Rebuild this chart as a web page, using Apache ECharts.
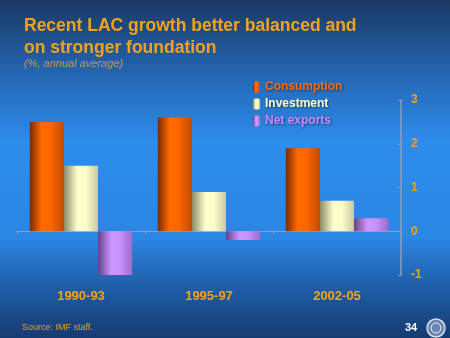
<!DOCTYPE html>
<html><head><meta charset="utf-8">
<script src="https://cdn.jsdelivr.net/npm/echarts@6/dist/echarts.min.js"></script>
<style>html,body{margin:0;padding:0;}#c{width:450px;height:338px;}</style>
</head><body><div id="c"></div>
<script>
var categories = ['1990-93', '1995-97', '2002-05'];
var consumption = [2.5, 2.6, 1.9];
var investment = [1.5, 0.9, 0.7];
var netExports = [-1.0, -0.2, 0.3];
var yTicks = [-1, 0, 1, 2, 3];

function hgrad(stops) {
  return {type:'linear', x:0, y:0, x2:1, y2:0, colorStops: stops.map(function(s){return {offset:s[0], color:s[1]};})};
}
var cGrad = hgrad([[0,'#7a2a00'],[0.35,'#ff6a00'],[0.6,'#ff6600'],[1,'#c04a00']]);
var iGrad = hgrad([[0,'#8c8c68'],[0.4,'#ffffd0'],[0.65,'#fcfcc8'],[1,'#c8c8a0']]);
var nGrad = hgrad([[0,'#6a3f8c'],[0.4,'#cc99ff'],[0.65,'#c890fa'],[1,'#9a6cc8']]);

var chart = echarts.init(document.getElementById('c'));
chart.setOption({
  animation: false,
  backgroundColor: {type:'linear', x:0, y:0, x2:0, y2:1, colorStops:[
    {offset:0, color:'#1b3963'},{offset:0.22, color:'#2466b2'},{offset:0.42, color:'#2d8cec'},
    {offset:0.7, color:'#2b86e4'},{offset:0.85, color:'#1f5ea8'},{offset:1, color:'#163b70'}]},
  graphic: [
    {type:'text', left:24, top:15, style:{text:'Recent LAC growth better balanced and\non stronger foundation', fill:'#f5a21a', font:'bold 17.5px Arial, "Liberation Sans", sans-serif', lineHeight:22}},
    {type:'text', left:24, top:58, style:{text:'(%, annual average)', fill:'#c09858', font:'italic 11px Arial, "Liberation Sans", sans-serif'}},
    {type:'text', left:22, top:323, style:{text:'Source: IMF staff.', fill:'#e8a020', font:'9px Arial, "Liberation Sans", sans-serif'}},
    {type:'text', left:405, top:322, style:{text:'34', fill:'#ffffff', font:'bold 11px Arial, "Liberation Sans", sans-serif'}},
    {type:'circle', shape:{cx:436, cy:328, r:9}, style:{fill:'#6a86b0', stroke:'#d8e0ec', lineWidth:1.5}},
    {type:'circle', shape:{cx:436, cy:328, r:5}, style:{fill:'none', stroke:'#e8eef6', lineWidth:1}}
  ],
  legend: {
    orient:'vertical', left:248, top:76, itemWidth:7, itemHeight:11, itemGap:5,
    textStyle:{fontFamily:'Arial, "Liberation Sans", sans-serif', fontWeight:'bold', fontSize:12, textShadowColor:'rgba(0,0,0,0.5)', textShadowBlur:2, textShadowOffsetX:1, textShadowOffsetY:1},
    data:[
      {name:'Consumption', textStyle:{color:'#ff6a10'}},
      {name:'Investment', textStyle:{color:'#ffffcc'}},
      {name:'Net exports', textStyle:{color:'#cc88ff'}}
    ]
  },
  grid: {left:17, right:49, top:100, bottom:63},
  xAxis: [
    {type:'category', data:categories, position:'bottom',
     axisLine:{show:false, onZero:false}, axisTick:{show:false},
     axisLabel:{color:'#f5a21a', fontWeight:'bold', fontSize:13, fontFamily:'Arial, "Liberation Sans", sans-serif', margin:15}},
    {type:'category', data:categories, position:'bottom',
     axisLine:{show:true, onZero:true, lineStyle:{color:'#8aa0b8', width:1}},
     axisTick:{show:true, length:3, lineStyle:{color:'#8aa0b8'}}, axisLabel:{show:false}}
  ],
  yAxis: {
    type:'value', position:'right', min:-1, max:3, interval:1,
    axisLine:{show:true, lineStyle:{color:'#8aa0b8', width:1.5}},
    axisTick:{show:true, inside:true, length:3, lineStyle:{color:'#8aa0b8'}},
    splitLine:{show:false},
    axisLabel:{color:'#f5a21a', fontWeight:'bold', fontSize:12, fontFamily:'Arial, "Liberation Sans", sans-serif', margin:10,
      formatter:function(v){return yTicks.indexOf(v) >= 0 ? String(v) : '';}}
  },
  series: [
    {name:'Consumption', type:'bar', data:consumption, barGap:'0%', barCategoryGap:'20%', itemStyle:{color:cGrad}},
    {name:'Investment', type:'bar', data:investment, barGap:'0%', barCategoryGap:'20%', itemStyle:{color:iGrad}},
    {name:'Net exports', type:'bar', data:netExports, barGap:'0%', barCategoryGap:'20%', itemStyle:{color:nGrad}}
  ]
});
</script></body></html>
